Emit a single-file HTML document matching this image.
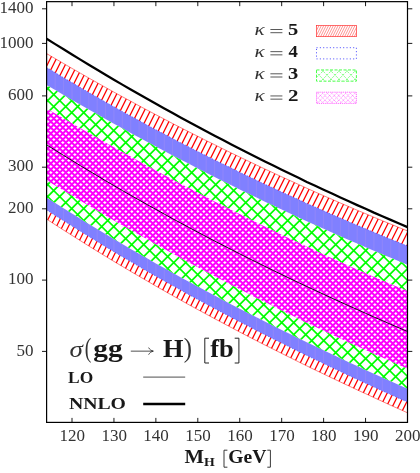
<!DOCTYPE html>
<html><head><meta charset="utf-8"><title>sigma(gg->H)</title>
<style>
html,body{margin:0;padding:0;background:#fff;}
body{width:420px;height:473px;overflow:hidden;font-family:"Liberation Serif",serif;}
svg{display:block;will-change:transform;}
text{font-family:"Liberation Serif",serif;fill:#333;}
.b{fill:#181818;}
.b{font-weight:bold;}
.i{font-style:italic;}
</style></head><body>
<svg width="420" height="473" viewBox="0 0 420 473">
<defs>
<clipPath id="cp"><rect x="46.6" y="1.65" width="360.9" height="420.75"/></clipPath>
<clipPath id="cr"><path d="M46.6,53.6 55.2,58.6 63.6,63.5 72,68.4 80.4,73.2 88.8,78 97.2,82.7 105.5,87.4 113.9,92.1 122.3,96.7 130.7,101.2 139.1,105.8 147.5,110.3 155.9,114.7 164.3,119.1 172.6,123.5 181,127.8 189.4,132.1 197.8,136.3 206.2,140.6 214.6,144.7 223,148.9 231.4,153 239.7,157 248.1,161 256.5,165 264.9,169 273.3,172.9 281.7,176.8 290.1,180.6 298.5,184.4 306.8,188.2 315.2,192 323.6,195.7 332,199.3 340.4,203 348.8,206.6 357.2,210.2 365.6,213.7 373.9,217.2 382.3,220.7 390.7,224.1 399.1,227.6 407.5,230.9 407.5,412.8 399.1,409 390.7,405.3 382.3,401.4 373.9,397.6 365.6,393.7 357.2,389.9 348.8,385.9 340.4,382 332,378 323.6,374 315.2,370 306.8,365.9 298.5,361.8 290.1,357.6 281.7,353.4 273.3,349.2 264.9,345 256.5,340.7 248.1,336.4 239.7,332 231.4,327.6 223,323.1 214.6,318.7 206.2,314.1 197.8,309.6 189.4,305 181,300.3 172.6,295.6 164.3,290.9 155.9,286.1 147.5,281.2 139.1,276.3 130.7,271.4 122.3,266.4 113.9,261.4 105.5,256.3 97.2,251.2 88.8,246 80.4,240.7 72,235.4 63.6,230.1 55.2,224.7 46.6,219.1Z"/></clipPath>
<clipPath id="cb"><path d="M46.6,67.4 55.2,72.6 63.6,77.7 72,82.6 80.4,87.5 88.8,92.4 97.2,97.2 105.5,102 113.9,106.7 122.3,111.4 130.7,116 139.1,120.6 147.5,125.2 155.9,129.7 164.3,134.1 172.6,138.5 181,142.9 189.4,147.2 197.8,151.5 206.2,155.7 214.6,159.9 223,164 231.4,168.1 239.7,172.2 248.1,176.2 256.5,180.2 264.9,184.2 273.3,188.1 281.7,192 290.1,195.8 298.5,199.6 306.8,203.4 315.2,207.1 323.6,210.8 332,214.5 340.4,218.1 348.8,221.7 357.2,225.3 365.6,228.8 373.9,232.3 382.3,235.8 390.7,239.2 399.1,242.6 407.5,246 407.5,402.1 399.1,398.4 390.7,394.6 382.3,390.9 373.9,387.1 365.6,383.2 357.2,379.4 348.8,375.5 340.4,371.5 332,367.6 323.6,363.6 315.2,359.6 306.8,355.5 298.5,351.4 290.1,347.3 281.7,343.1 273.3,338.9 264.9,334.7 256.5,330.4 248.1,326.1 239.7,321.8 231.4,317.4 223,313 214.6,308.5 206.2,304 197.8,299.5 189.4,294.9 181,290.3 172.6,285.6 164.3,280.9 155.9,276.2 147.5,271.4 139.1,266.5 130.7,261.6 122.3,256.7 113.9,251.7 105.5,246.7 97.2,241.6 88.8,236.5 80.4,231.3 72,226.1 63.6,220.8 55.2,215.5 46.6,209.9Z"/></clipPath>
<clipPath id="cg"><path d="M46.6,85 55.2,90.1 63.6,95 72,99.9 80.4,104.7 88.8,109.5 97.2,114.2 105.5,119 113.9,123.7 122.3,128.3 130.7,132.9 139.1,137.5 147.5,142 155.9,146.5 164.3,151 172.6,155.4 181,159.8 189.4,164.1 197.8,168.5 206.2,172.7 214.6,177 223,181.2 231.4,185.3 239.7,189.5 248.1,193.6 256.5,197.6 264.9,201.7 273.3,205.6 281.7,209.6 290.1,213.5 298.5,217.4 306.8,221.2 315.2,225 323.6,228.8 332,232.6 340.4,236.3 348.8,239.9 357.2,243.6 365.6,247.2 373.9,250.7 382.3,254.3 390.7,257.8 399.1,261.2 407.5,264.7 407.5,388.8 399.1,385.1 390.7,381.3 382.3,377.5 373.9,373.7 365.6,369.9 357.2,366 348.8,362.2 340.4,358.2 332,354.3 323.6,350.3 315.2,346.3 306.8,342.3 298.5,338.2 290.1,334.1 281.7,330 273.3,325.8 264.9,321.6 256.5,317.3 248.1,313.1 239.7,308.7 231.4,304.4 223,300 214.6,295.6 206.2,291.1 197.8,286.6 189.4,282 181,277.4 172.6,272.8 164.3,268.1 155.9,263.4 147.5,258.6 139.1,253.8 130.7,248.9 122.3,244 113.9,239.1 105.5,234 97.2,229 88.8,223.9 80.4,218.7 72,213.5 63.6,208.3 55.2,203 46.6,197.5Z"/></clipPath>
<clipPath id="cm"><path d="M46.6,108.4 55.2,113.5 63.6,118.4 72,123.3 80.4,128.2 88.8,133 97.2,137.8 105.5,142.6 113.9,147.3 122.3,152 130.7,156.6 139.1,161.3 147.5,165.9 155.9,170.4 164.3,174.9 172.6,179.4 181,183.9 189.4,188.3 197.8,192.7 206.2,197 214.6,201.4 223,205.6 231.4,209.9 239.7,214.1 248.1,218.3 256.5,222.4 264.9,226.5 273.3,230.6 281.7,234.7 290.1,238.7 298.5,242.6 306.8,246.6 315.2,250.5 323.6,254.4 332,258.2 340.4,262 348.8,265.8 357.2,269.5 365.6,273.2 373.9,276.8 382.3,280.4 390.7,284 399.1,287.6 407.5,291.1 407.5,368.6 399.1,365 390.7,361.3 382.3,357.6 373.9,353.9 365.6,350.1 357.2,346.3 348.8,342.5 340.4,338.6 332,334.7 323.6,330.8 315.2,326.8 306.8,322.8 298.5,318.7 290.1,314.6 281.7,310.5 273.3,306.3 264.9,302.1 256.5,297.9 248.1,293.6 239.7,289.3 231.4,285 223,280.6 214.6,276.2 206.2,271.7 197.8,267.2 189.4,262.7 181,258.2 172.6,253.6 164.3,248.9 155.9,244.3 147.5,239.6 139.1,234.8 130.7,230.1 122.3,225.2 113.9,220.4 105.5,215.5 97.2,210.6 88.8,205.7 80.4,200.7 72,195.6 63.6,190.6 55.2,185.5 46.6,180.2Z"/></clipPath>
<clipPath id="cl0"><rect x="316.5" y="25.45" width="39.9" height="11.2"/></clipPath>
<clipPath id="cl1"><rect x="316.5" y="47.70" width="39.9" height="11.2"/></clipPath>
<clipPath id="cl2"><rect x="316.5" y="69.95" width="39.9" height="11.2"/></clipPath>
<clipPath id="cl3"><rect x="316.5" y="92.20" width="39.9" height="11.2"/></clipPath>
</defs>
<rect width="420" height="473" fill="#fff"/>
<g clip-path="url(#cp)">
<g clip-path="url(#cr)"><path d="M48.7,50L-134.3,416M54.7,50L-128.3,416M60.7,50L-122.3,416M66.7,50L-116.3,416M72.7,50L-110.3,416M78.7,50L-104.3,416M84.7,50L-98.3,416M90.7,50L-92.3,416M96.7,50L-86.3,416M102.7,50L-80.3,416M108.7,50L-74.3,416M114.7,50L-68.3,416M120.7,50L-62.3,416M126.7,50L-56.3,416M132.7,50L-50.3,416M138.7,50L-44.3,416M144.7,50L-38.3,416M150.7,50L-32.3,416M156.7,50L-26.3,416M162.7,50L-20.3,416M168.7,50L-14.3,416M174.7,50L-8.3,416M180.7,50L-2.3,416M186.7,50L3.7,416M192.7,50L9.7,416M198.7,50L15.7,416M204.7,50L21.7,416M210.7,50L27.7,416M216.7,50L33.7,416M222.7,50L39.7,416M228.7,50L45.7,416M234.7,50L51.7,416M240.7,50L57.7,416M246.7,50L63.7,416M252.7,50L69.7,416M258.7,50L75.7,416M264.7,50L81.7,416M270.7,50L87.7,416M276.7,50L93.7,416M282.7,50L99.7,416M288.7,50L105.7,416M294.7,50L111.7,416M300.7,50L117.7,416M306.7,50L123.7,416M312.7,50L129.7,416M318.7,50L135.7,416M324.7,50L141.7,416M330.7,50L147.7,416M336.7,50L153.7,416M342.7,50L159.7,416M348.7,50L165.7,416M354.7,50L171.7,416M360.7,50L177.7,416M366.7,50L183.7,416M372.7,50L189.7,416M378.7,50L195.7,416M384.7,50L201.7,416M390.7,50L207.7,416M396.7,50L213.7,416M402.7,50L219.7,416M408.7,50L225.7,416M414.7,50L231.7,416M420.7,50L237.7,416M426.7,50L243.7,416M432.7,50L249.7,416M438.7,50L255.7,416M444.7,50L261.7,416M450.7,50L267.7,416M456.7,50L273.7,416M462.7,50L279.7,416M468.7,50L285.7,416M474.7,50L291.7,416M480.7,50L297.7,416M486.7,50L303.7,416M492.7,50L309.7,416M498.7,50L315.7,416M504.7,50L321.7,416M510.7,50L327.7,416M516.7,50L333.7,416M522.7,50L339.7,416M528.7,50L345.7,416M534.7,50L351.7,416M540.7,50L357.7,416M546.7,50L363.7,416M552.7,50L369.7,416M558.7,50L375.7,416M564.7,50L381.7,416M570.7,50L387.7,416M576.7,50L393.7,416M582.7,50L399.7,416M588.7,50L405.7,416" stroke="#f00" stroke-width="1.3" fill="none"/></g>
<path d="M46.6,53.6 55.2,58.6 63.6,63.5 72,68.4 80.4,73.2 88.8,78 97.2,82.7 105.5,87.4 113.9,92.1 122.3,96.7 130.7,101.2 139.1,105.8 147.5,110.3 155.9,114.7 164.3,119.1 172.6,123.5 181,127.8 189.4,132.1 197.8,136.3 206.2,140.6 214.6,144.7 223,148.9 231.4,153 239.7,157 248.1,161 256.5,165 264.9,169 273.3,172.9 281.7,176.8 290.1,180.6 298.5,184.4 306.8,188.2 315.2,192 323.6,195.7 332,199.3 340.4,203 348.8,206.6 357.2,210.2 365.6,213.7 373.9,217.2 382.3,220.7 390.7,224.1 399.1,227.6 407.5,230.9 407.5,412.8 399.1,409 390.7,405.3 382.3,401.4 373.9,397.6 365.6,393.7 357.2,389.9 348.8,385.9 340.4,382 332,378 323.6,374 315.2,370 306.8,365.9 298.5,361.8 290.1,357.6 281.7,353.4 273.3,349.2 264.9,345 256.5,340.7 248.1,336.4 239.7,332 231.4,327.6 223,323.1 214.6,318.7 206.2,314.1 197.8,309.6 189.4,305 181,300.3 172.6,295.6 164.3,290.9 155.9,286.1 147.5,281.2 139.1,276.3 130.7,271.4 122.3,266.4 113.9,261.4 105.5,256.3 97.2,251.2 88.8,246 80.4,240.7 72,235.4 63.6,230.1 55.2,224.7 46.6,219.1Z" fill="none" stroke="#f00" stroke-width="0.5"/>
<path d="M46.6,67.4 55.2,72.6 63.6,77.7 72,82.6 80.4,87.5 88.8,92.4 97.2,97.2 105.5,102 113.9,106.7 122.3,111.4 130.7,116 139.1,120.6 147.5,125.2 155.9,129.7 164.3,134.1 172.6,138.5 181,142.9 189.4,147.2 197.8,151.5 206.2,155.7 214.6,159.9 223,164 231.4,168.1 239.7,172.2 248.1,176.2 256.5,180.2 264.9,184.2 273.3,188.1 281.7,192 290.1,195.8 298.5,199.6 306.8,203.4 315.2,207.1 323.6,210.8 332,214.5 340.4,218.1 348.8,221.7 357.2,225.3 365.6,228.8 373.9,232.3 382.3,235.8 390.7,239.2 399.1,242.6 407.5,246 407.5,402.1 399.1,398.4 390.7,394.6 382.3,390.9 373.9,387.1 365.6,383.2 357.2,379.4 348.8,375.5 340.4,371.5 332,367.6 323.6,363.6 315.2,359.6 306.8,355.5 298.5,351.4 290.1,347.3 281.7,343.1 273.3,338.9 264.9,334.7 256.5,330.4 248.1,326.1 239.7,321.8 231.4,317.4 223,313 214.6,308.5 206.2,304 197.8,299.5 189.4,294.9 181,290.3 172.6,285.6 164.3,280.9 155.9,276.2 147.5,271.4 139.1,266.5 130.7,261.6 122.3,256.7 113.9,251.7 105.5,246.7 97.2,241.6 88.8,236.5 80.4,231.3 72,226.1 63.6,220.8 55.2,215.5 46.6,209.9Z" fill="#8080ff"/>
<path d="M46.6,67.4 55.2,72.6 63.6,77.7 72,82.6 80.4,87.5 88.8,92.4 97.2,97.2 105.5,102 113.9,106.7 122.3,111.4 130.7,116 139.1,120.6 147.5,125.2 155.9,129.7 164.3,134.1 172.6,138.5 181,142.9 189.4,147.2 197.8,151.5 206.2,155.7 214.6,159.9 223,164 231.4,168.1 239.7,172.2 248.1,176.2 256.5,180.2 264.9,184.2 273.3,188.1 281.7,192 290.1,195.8 298.5,199.6 306.8,203.4 315.2,207.1 323.6,210.8 332,214.5 340.4,218.1 348.8,221.7 357.2,225.3 365.6,228.8 373.9,232.3 382.3,235.8 390.7,239.2 399.1,242.6 407.5,246M46.6,209.9 55.2,215.5 63.6,220.8 72,226.1 80.4,231.3 88.8,236.5 97.2,241.6 105.5,246.7 113.9,251.7 122.3,256.7 130.7,261.6 139.1,266.5 147.5,271.4 155.9,276.2 164.3,280.9 172.6,285.6 181,290.3 189.4,294.9 197.8,299.5 206.2,304 214.6,308.5 223,313 231.4,317.4 239.7,321.8 248.1,326.1 256.5,330.4 264.9,334.7 273.3,338.9 281.7,343.1 290.1,347.3 298.5,351.4 306.8,355.5 315.2,359.6 323.6,363.6 332,367.6 340.4,371.5 348.8,375.5 357.2,379.4 365.6,383.2 373.9,387.1 382.3,390.9 390.7,394.6 399.1,398.4 407.5,402.1" fill="none" stroke="#2020ff" stroke-width="0.6" stroke-dasharray="0.9 2.1"/>
<g clip-path="url(#cb)"><path d="M55.2,60V410M63.6,60V410M72.0,60V410M80.4,60V410M88.8,60V410M97.2,60V410M105.5,60V410M113.9,60V410M122.3,60V410M130.7,60V410M139.1,60V410M147.5,60V410M155.9,60V410M164.3,60V410M172.6,60V410M181.0,60V410M189.4,60V410M197.8,60V410M206.2,60V410M214.6,60V410M223.0,60V410M231.4,60V410M239.7,60V410M248.1,60V410M256.5,60V410M264.9,60V410M273.3,60V410M281.7,60V410M290.1,60V410M298.5,60V410M306.8,60V410M315.2,60V410M323.6,60V410M332.0,60V410M340.4,60V410M348.8,60V410M357.2,60V410M365.6,60V410M373.9,60V410M382.3,60V410M390.7,60V410M399.1,60V410" stroke="#c8a0e8" stroke-opacity="0.35" stroke-width="0.6" fill="none"/></g>
<path d="M46.6,85 55.2,90.1 63.6,95 72,99.9 80.4,104.7 88.8,109.5 97.2,114.2 105.5,119 113.9,123.7 122.3,128.3 130.7,132.9 139.1,137.5 147.5,142 155.9,146.5 164.3,151 172.6,155.4 181,159.8 189.4,164.1 197.8,168.5 206.2,172.7 214.6,177 223,181.2 231.4,185.3 239.7,189.5 248.1,193.6 256.5,197.6 264.9,201.7 273.3,205.6 281.7,209.6 290.1,213.5 298.5,217.4 306.8,221.2 315.2,225 323.6,228.8 332,232.6 340.4,236.3 348.8,239.9 357.2,243.6 365.6,247.2 373.9,250.7 382.3,254.3 390.7,257.8 399.1,261.2 407.5,264.7 407.5,388.8 399.1,385.1 390.7,381.3 382.3,377.5 373.9,373.7 365.6,369.9 357.2,366 348.8,362.2 340.4,358.2 332,354.3 323.6,350.3 315.2,346.3 306.8,342.3 298.5,338.2 290.1,334.1 281.7,330 273.3,325.8 264.9,321.6 256.5,317.3 248.1,313.1 239.7,308.7 231.4,304.4 223,300 214.6,295.6 206.2,291.1 197.8,286.6 189.4,282 181,277.4 172.6,272.8 164.3,268.1 155.9,263.4 147.5,258.6 139.1,253.8 130.7,248.9 122.3,244 113.9,239.1 105.5,234 97.2,229 88.8,223.9 80.4,218.7 72,213.5 63.6,208.3 55.2,203 46.6,197.5Z" fill="#fff"/>
<g clip-path="url(#cg)"><path d="M54.3,82L-255.7,392M66.3,82L-243.7,392M78.3,82L-231.7,392M90.3,82L-219.7,392M102.3,82L-207.7,392M114.3,82L-195.7,392M126.3,82L-183.7,392M138.3,82L-171.7,392M150.3,82L-159.7,392M162.3,82L-147.7,392M174.3,82L-135.7,392M186.3,82L-123.7,392M198.3,82L-111.7,392M210.3,82L-99.7,392M222.3,82L-87.7,392M234.3,82L-75.7,392M246.3,82L-63.7,392M258.3,82L-51.7,392M270.3,82L-39.7,392M282.3,82L-27.7,392M294.3,82L-15.7,392M306.3,82L-3.7,392M318.3,82L8.3,392M330.3,82L20.3,392M342.3,82L32.3,392M354.3,82L44.3,392M366.3,82L56.3,392M378.3,82L68.3,392M390.3,82L80.3,392M402.3,82L92.3,392M414.3,82L104.3,392M426.3,82L116.3,392M438.3,82L128.3,392M450.3,82L140.3,392M462.3,82L152.3,392M474.3,82L164.3,392M486.3,82L176.3,392M498.3,82L188.3,392M510.3,82L200.3,392M522.3,82L212.3,392M534.3,82L224.3,392M546.3,82L236.3,392M558.3,82L248.3,392M570.3,82L260.3,392M582.3,82L272.3,392M594.3,82L284.3,392M606.3,82L296.3,392M618.3,82L308.3,392M630.3,82L320.3,392M642.3,82L332.3,392M654.3,82L344.3,392M666.3,82L356.3,392M678.3,82L368.3,392M690.3,82L380.3,392M702.3,82L392.3,392M714.3,82L404.3,392M-258.9,82L51.1,392M-246.9,82L63.1,392M-234.9,82L75.1,392M-222.9,82L87.1,392M-210.9,82L99.1,392M-198.9,82L111.1,392M-186.9,82L123.1,392M-174.9,82L135.1,392M-162.9,82L147.1,392M-150.9,82L159.1,392M-138.9,82L171.1,392M-126.9,82L183.1,392M-114.9,82L195.1,392M-102.9,82L207.1,392M-90.9,82L219.1,392M-78.9,82L231.1,392M-66.9,82L243.1,392M-54.9,82L255.1,392M-42.9,82L267.1,392M-30.9,82L279.1,392M-18.9,82L291.1,392M-6.9,82L303.1,392M5.1,82L315.1,392M17.1,82L327.1,392M29.1,82L339.1,392M41.1,82L351.1,392M53.1,82L363.1,392M65.1,82L375.1,392M77.1,82L387.1,392M89.1,82L399.1,392M101.1,82L411.1,392M113.1,82L423.1,392M125.1,82L435.1,392M137.1,82L447.1,392M149.1,82L459.1,392M161.1,82L471.1,392M173.1,82L483.1,392M185.1,82L495.1,392M197.1,82L507.1,392M209.1,82L519.1,392M221.1,82L531.1,392M233.1,82L543.1,392M245.1,82L555.1,392M257.1,82L567.1,392M269.1,82L579.1,392M281.1,82L591.1,392M293.1,82L603.1,392M305.1,82L615.1,392M317.1,82L627.1,392M329.1,82L639.1,392M341.1,82L651.1,392M353.1,82L663.1,392M365.1,82L675.1,392M377.1,82L687.1,392M389.1,82L699.1,392M401.1,82L711.1,392" stroke="#0f0" stroke-width="1.7" fill="none"/></g>
<path d="M46.6,108.4 55.2,113.5 63.6,118.4 72,123.3 80.4,128.2 88.8,133 97.2,137.8 105.5,142.6 113.9,147.3 122.3,152 130.7,156.6 139.1,161.3 147.5,165.9 155.9,170.4 164.3,174.9 172.6,179.4 181,183.9 189.4,188.3 197.8,192.7 206.2,197 214.6,201.4 223,205.6 231.4,209.9 239.7,214.1 248.1,218.3 256.5,222.4 264.9,226.5 273.3,230.6 281.7,234.7 290.1,238.7 298.5,242.6 306.8,246.6 315.2,250.5 323.6,254.4 332,258.2 340.4,262 348.8,265.8 357.2,269.5 365.6,273.2 373.9,276.8 382.3,280.4 390.7,284 399.1,287.6 407.5,291.1 407.5,368.6 399.1,365 390.7,361.3 382.3,357.6 373.9,353.9 365.6,350.1 357.2,346.3 348.8,342.5 340.4,338.6 332,334.7 323.6,330.8 315.2,326.8 306.8,322.8 298.5,318.7 290.1,314.6 281.7,310.5 273.3,306.3 264.9,302.1 256.5,297.9 248.1,293.6 239.7,289.3 231.4,285 223,280.6 214.6,276.2 206.2,271.7 197.8,267.2 189.4,262.7 181,258.2 172.6,253.6 164.3,248.9 155.9,244.3 147.5,239.6 139.1,234.8 130.7,230.1 122.3,225.2 113.9,220.4 105.5,215.5 97.2,210.6 88.8,205.7 80.4,200.7 72,195.6 63.6,190.6 55.2,185.5 46.6,180.2Z" fill="#fff"/>
<g clip-path="url(#cm)"><path d="M49.4,105L-217.6,372M55.4,105L-211.6,372M61.4,105L-205.6,372M67.4,105L-199.6,372M73.4,105L-193.6,372M79.4,105L-187.6,372M85.4,105L-181.6,372M91.4,105L-175.6,372M97.4,105L-169.6,372M103.4,105L-163.6,372M109.4,105L-157.6,372M115.4,105L-151.6,372M121.4,105L-145.6,372M127.4,105L-139.6,372M133.4,105L-133.6,372M139.4,105L-127.6,372M145.4,105L-121.6,372M151.4,105L-115.6,372M157.4,105L-109.6,372M163.4,105L-103.6,372M169.4,105L-97.6,372M175.4,105L-91.6,372M181.4,105L-85.6,372M187.4,105L-79.6,372M193.4,105L-73.6,372M199.4,105L-67.6,372M205.4,105L-61.6,372M211.4,105L-55.6,372M217.4,105L-49.6,372M223.4,105L-43.6,372M229.4,105L-37.6,372M235.4,105L-31.6,372M241.4,105L-25.6,372M247.4,105L-19.6,372M253.4,105L-13.6,372M259.4,105L-7.6,372M265.4,105L-1.6,372M271.4,105L4.4,372M277.4,105L10.4,372M283.4,105L16.4,372M289.4,105L22.4,372M295.4,105L28.4,372M301.4,105L34.4,372M307.4,105L40.4,372M313.4,105L46.4,372M319.4,105L52.4,372M325.4,105L58.4,372M331.4,105L64.4,372M337.4,105L70.4,372M343.4,105L76.4,372M349.4,105L82.4,372M355.4,105L88.4,372M361.4,105L94.4,372M367.4,105L100.4,372M373.4,105L106.4,372M379.4,105L112.4,372M385.4,105L118.4,372M391.4,105L124.4,372M397.4,105L130.4,372M403.4,105L136.4,372M409.4,105L142.4,372M415.4,105L148.4,372M421.4,105L154.4,372M427.4,105L160.4,372M433.4,105L166.4,372M439.4,105L172.4,372M445.4,105L178.4,372M451.4,105L184.4,372M457.4,105L190.4,372M463.4,105L196.4,372M469.4,105L202.4,372M475.4,105L208.4,372M481.4,105L214.4,372M487.4,105L220.4,372M493.4,105L226.4,372M499.4,105L232.4,372M505.4,105L238.4,372M511.4,105L244.4,372M517.4,105L250.4,372M523.4,105L256.4,372M529.4,105L262.4,372M535.4,105L268.4,372M541.4,105L274.4,372M547.4,105L280.4,372M553.4,105L286.4,372M559.4,105L292.4,372M565.4,105L298.4,372M571.4,105L304.4,372M577.4,105L310.4,372M583.4,105L316.4,372M589.4,105L322.4,372M595.4,105L328.4,372M601.4,105L334.4,372M607.4,105L340.4,372M613.4,105L346.4,372M619.4,105L352.4,372M625.4,105L358.4,372M631.4,105L364.4,372M637.4,105L370.4,372M643.4,105L376.4,372M649.4,105L382.4,372M655.4,105L388.4,372M661.4,105L394.4,372M667.4,105L400.4,372M673.4,105L406.4,372M-217.7,105L49.3,372M-211.7,105L55.3,372M-205.7,105L61.3,372M-199.7,105L67.3,372M-193.7,105L73.3,372M-187.7,105L79.3,372M-181.7,105L85.3,372M-175.7,105L91.3,372M-169.7,105L97.3,372M-163.7,105L103.3,372M-157.7,105L109.3,372M-151.7,105L115.3,372M-145.7,105L121.3,372M-139.7,105L127.3,372M-133.7,105L133.3,372M-127.7,105L139.3,372M-121.7,105L145.3,372M-115.7,105L151.3,372M-109.7,105L157.3,372M-103.7,105L163.3,372M-97.7,105L169.3,372M-91.7,105L175.3,372M-85.7,105L181.3,372M-79.7,105L187.3,372M-73.7,105L193.3,372M-67.7,105L199.3,372M-61.7,105L205.3,372M-55.7,105L211.3,372M-49.7,105L217.3,372M-43.7,105L223.3,372M-37.7,105L229.3,372M-31.7,105L235.3,372M-25.7,105L241.3,372M-19.7,105L247.3,372M-13.7,105L253.3,372M-7.7,105L259.3,372M-1.7,105L265.3,372M4.3,105L271.3,372M10.3,105L277.3,372M16.3,105L283.3,372M22.3,105L289.3,372M28.3,105L295.3,372M34.3,105L301.3,372M40.3,105L307.3,372M46.3,105L313.3,372M52.3,105L319.3,372M58.3,105L325.3,372M64.3,105L331.3,372M70.3,105L337.3,372M76.3,105L343.3,372M82.3,105L349.3,372M88.3,105L355.3,372M94.3,105L361.3,372M100.3,105L367.3,372M106.3,105L373.3,372M112.3,105L379.3,372M118.3,105L385.3,372M124.3,105L391.3,372M130.3,105L397.3,372M136.3,105L403.3,372M142.3,105L409.3,372M148.3,105L415.3,372M154.3,105L421.3,372M160.3,105L427.3,372M166.3,105L433.3,372M172.3,105L439.3,372M178.3,105L445.3,372M184.3,105L451.3,372M190.3,105L457.3,372M196.3,105L463.3,372M202.3,105L469.3,372M208.3,105L475.3,372M214.3,105L481.3,372M220.3,105L487.3,372M226.3,105L493.3,372M232.3,105L499.3,372M238.3,105L505.3,372M244.3,105L511.3,372M250.3,105L517.3,372M256.3,105L523.3,372M262.3,105L529.3,372M268.3,105L535.3,372M274.3,105L541.3,372M280.3,105L547.3,372M286.3,105L553.3,372M292.3,105L559.3,372M298.3,105L565.3,372M304.3,105L571.3,372M310.3,105L577.3,372M316.3,105L583.3,372M322.3,105L589.3,372M328.3,105L595.3,372M334.3,105L601.3,372M340.3,105L607.3,372M346.3,105L613.3,372M352.3,105L619.3,372M358.3,105L625.3,372M364.3,105L631.3,372M370.3,105L637.3,372M376.3,105L643.3,372M382.3,105L649.3,372M388.3,105L655.3,372M394.3,105L661.3,372M400.3,105L667.3,372M406.3,105L673.3,372" stroke="#f0f" stroke-width="2.05" fill="none"/></g>
<path d="M46.6,144.8 55.2,150.2 63.6,155.4 72,160.5 80.4,165.7 88.8,170.7 97.2,175.7 105.5,180.7 113.9,185.6 122.3,190.5 130.7,195.3 139.1,200 147.5,204.8 155.9,209.4 164.3,214.1 172.6,218.7 181,223.2 189.4,227.7 197.8,232.2 206.2,236.6 214.6,241 223,245.3 231.4,249.6 239.7,253.8 248.1,258.1 256.5,262.2 264.9,266.4 273.3,270.5 281.7,274.5 290.1,278.6 298.5,282.6 306.8,286.5 315.2,290.4 323.6,294.3 332,298.2 340.4,302 348.8,305.8 357.2,309.5 365.6,313.3 373.9,317 382.3,320.6 390.7,324.3 399.1,327.9 407.5,331.5" fill="none" stroke="#000" stroke-width="0.9"/>
<path d="M46.6,38.7 55.2,44.1 63.6,49.3 72,54.5 80.4,59.6 88.8,64.7 97.2,69.7 105.5,74.7 113.9,79.7 122.3,84.6 130.7,89.4 139.1,94.3 147.5,99 155.9,103.8 164.3,108.4 172.6,113.1 181,117.7 189.4,122.2 197.8,126.8 206.2,131.2 214.6,135.7 223,140.1 231.4,144.4 239.7,148.7 248.1,153 256.5,157.3 264.9,161.5 273.3,165.6 281.7,169.7 290.1,173.8 298.5,177.8 306.8,181.9 315.2,185.8 323.6,189.7 332,193.6 340.4,197.5 348.8,201.3 357.2,205.1 365.6,208.8 373.9,212.6 382.3,216.2 390.7,219.9 399.1,223.5 407.5,227.1" fill="none" stroke="#000" stroke-width="2.25"/>
</g>
<rect x="46.6" y="1.65" width="360.9" height="420.75" fill="none" stroke="#000" stroke-width="1.2"/>
<path d="M42.0,8.8H46.6M407.5,8.8H412.3M42.0,43.4H46.6M407.5,43.4H412.3M42.0,95.9H46.6M407.5,95.9H412.3M42.0,167.2H46.6M407.5,167.2H412.3M42.0,208.8H46.6M407.5,208.8H412.3M42.0,280.1H46.6M407.5,280.1H412.3M42.0,351.4H46.6M407.5,351.4H412.3M72.00,422.4V417.9M72.00,1.65V6.15M113.94,422.4V417.9M113.94,1.65V6.15M155.87,422.4V417.9M155.87,1.65V6.15M197.81,422.4V417.9M197.81,1.65V6.15M239.74,422.4V417.9M239.74,1.65V6.15M281.68,422.4V417.9M281.68,1.65V6.15M323.62,422.4V417.9M323.62,1.65V6.15M365.55,422.4V417.9M365.55,1.65V6.15M407.49,422.4V417.9M407.49,1.65V6.15" stroke="#000" stroke-width="0.9" fill="none"/>
<text x="-0.62" y="13.11" font-size="17.0">1400</text>
<text x="-0.62" y="47.70" font-size="17.0">1000</text>
<text x="7.88" y="100.21" font-size="17.0">600</text>
<text x="7.88" y="171.47" font-size="17.0">300</text>
<text x="7.88" y="213.15" font-size="17.0">200</text>
<text x="7.88" y="284.40" font-size="17.0">100</text>
<text x="16.38" y="355.65" font-size="17.0">50</text>
<text x="72.20" y="441.4" font-size="17.0" text-anchor="middle">120</text>
<text x="114.14" y="441.4" font-size="17.0" text-anchor="middle">130</text>
<text x="156.07" y="441.4" font-size="17.0" text-anchor="middle">140</text>
<text x="198.01" y="441.4" font-size="17.0" text-anchor="middle">150</text>
<text x="239.94" y="441.4" font-size="17.0" text-anchor="middle">160</text>
<text x="281.88" y="441.4" font-size="17.0" text-anchor="middle">170</text>
<text x="323.82" y="441.4" font-size="17.0" text-anchor="middle">180</text>
<text x="365.75" y="441.4" font-size="17.0" text-anchor="middle">190</text>
<text x="407.69" y="441.4" font-size="17.0" text-anchor="middle">200</text>
<text x="254.45" y="34.75" font-size="17.36" textLength="10.23" lengthAdjust="spacingAndGlyphs" class="i">κ</text>
<path d="M270.4,29.50H282.4M270.4,32.70H282.4" stroke="#222" stroke-width="0.75"/>
<text x="287.98" y="34.75" font-size="16.79" textLength="10.24" lengthAdjust="spacingAndGlyphs" class="b">5</text>
<text x="254.45" y="56.90" font-size="17.36" textLength="10.23" lengthAdjust="spacingAndGlyphs" class="i">κ</text>
<path d="M270.4,51.65H282.4M270.4,54.85H282.4" stroke="#222" stroke-width="0.75"/>
<text x="288.52" y="56.90" font-size="16.79" textLength="9.35" lengthAdjust="spacingAndGlyphs" class="b">4</text>
<text x="254.45" y="79.05" font-size="17.36" textLength="10.23" lengthAdjust="spacingAndGlyphs" class="i">κ</text>
<path d="M270.4,73.80H282.4M270.4,77.00H282.4" stroke="#222" stroke-width="0.75"/>
<text x="287.98" y="79.05" font-size="16.67" textLength="10.24" lengthAdjust="spacingAndGlyphs" class="b">3</text>
<text x="254.45" y="101.20" font-size="17.36" textLength="10.23" lengthAdjust="spacingAndGlyphs" class="i">κ</text>
<path d="M270.4,95.95H282.4M270.4,99.15H282.4" stroke="#222" stroke-width="0.75"/>
<text x="287.96" y="101.20" font-size="16.67" textLength="10.48" lengthAdjust="spacingAndGlyphs" class="b">2</text>
<g clip-path="url(#cl0)"><path d="M48.3,24.5L41.3,38.5M50.7,24.5L43.7,38.5M53.1,24.5L46.1,38.5M55.5,24.5L48.5,38.5M57.9,24.5L50.9,38.5M60.3,24.5L53.3,38.5M62.7,24.5L55.7,38.5M65.1,24.5L58.1,38.5M67.5,24.5L60.5,38.5M69.9,24.5L62.9,38.5M72.3,24.5L65.3,38.5M74.7,24.5L67.7,38.5M77.1,24.5L70.1,38.5M79.5,24.5L72.5,38.5M81.9,24.5L74.9,38.5M84.3,24.5L77.3,38.5M86.7,24.5L79.7,38.5M89.1,24.5L82.1,38.5M91.5,24.5L84.5,38.5M93.9,24.5L86.9,38.5M96.3,24.5L89.3,38.5M98.7,24.5L91.7,38.5M101.1,24.5L94.1,38.5M103.5,24.5L96.5,38.5M105.9,24.5L98.9,38.5M108.3,24.5L101.3,38.5M110.7,24.5L103.7,38.5M113.1,24.5L106.1,38.5M115.5,24.5L108.5,38.5M117.9,24.5L110.9,38.5M120.3,24.5L113.3,38.5M122.7,24.5L115.7,38.5M125.1,24.5L118.1,38.5M127.5,24.5L120.5,38.5M129.9,24.5L122.9,38.5M132.3,24.5L125.3,38.5M134.7,24.5L127.7,38.5M137.1,24.5L130.1,38.5M139.5,24.5L132.5,38.5M141.9,24.5L134.9,38.5M144.3,24.5L137.3,38.5M146.7,24.5L139.7,38.5M149.1,24.5L142.1,38.5M151.5,24.5L144.5,38.5M153.9,24.5L146.9,38.5M156.3,24.5L149.3,38.5M158.7,24.5L151.7,38.5M161.1,24.5L154.1,38.5M163.5,24.5L156.5,38.5M165.9,24.5L158.9,38.5M168.3,24.5L161.3,38.5M170.7,24.5L163.7,38.5M173.1,24.5L166.1,38.5M175.5,24.5L168.5,38.5M177.9,24.5L170.9,38.5M180.3,24.5L173.3,38.5M182.7,24.5L175.7,38.5M185.1,24.5L178.1,38.5M187.5,24.5L180.5,38.5M189.9,24.5L182.9,38.5M192.3,24.5L185.3,38.5M194.7,24.5L187.7,38.5M197.1,24.5L190.1,38.5M199.5,24.5L192.5,38.5M201.9,24.5L194.9,38.5M204.3,24.5L197.3,38.5M206.7,24.5L199.7,38.5M209.1,24.5L202.1,38.5M211.5,24.5L204.5,38.5M213.9,24.5L206.9,38.5M216.3,24.5L209.3,38.5M218.7,24.5L211.7,38.5M221.1,24.5L214.1,38.5M223.5,24.5L216.5,38.5M225.9,24.5L218.9,38.5M228.3,24.5L221.3,38.5M230.7,24.5L223.7,38.5M233.1,24.5L226.1,38.5M235.5,24.5L228.5,38.5M237.9,24.5L230.9,38.5M240.3,24.5L233.3,38.5M242.7,24.5L235.7,38.5M245.1,24.5L238.1,38.5M247.5,24.5L240.5,38.5M249.9,24.5L242.9,38.5M252.3,24.5L245.3,38.5M254.7,24.5L247.7,38.5M257.1,24.5L250.1,38.5M259.5,24.5L252.5,38.5M261.9,24.5L254.9,38.5M264.3,24.5L257.3,38.5M266.7,24.5L259.7,38.5M269.1,24.5L262.1,38.5M271.5,24.5L264.5,38.5M273.9,24.5L266.9,38.5M276.3,24.5L269.3,38.5M278.7,24.5L271.7,38.5M281.1,24.5L274.1,38.5M283.5,24.5L276.5,38.5M285.9,24.5L278.9,38.5M288.3,24.5L281.3,38.5M290.7,24.5L283.7,38.5M293.1,24.5L286.1,38.5M295.5,24.5L288.5,38.5M297.9,24.5L290.9,38.5M300.3,24.5L293.3,38.5M302.7,24.5L295.7,38.5M305.1,24.5L298.1,38.5M307.5,24.5L300.5,38.5M309.9,24.5L302.9,38.5M312.3,24.5L305.3,38.5M314.7,24.5L307.7,38.5M317.1,24.5L310.1,38.5M319.5,24.5L312.5,38.5M321.9,24.5L314.9,38.5M324.3,24.5L317.3,38.5M326.7,24.5L319.7,38.5M329.1,24.5L322.1,38.5M331.5,24.5L324.5,38.5M333.9,24.5L326.9,38.5M336.3,24.5L329.3,38.5M338.7,24.5L331.7,38.5M341.1,24.5L334.1,38.5M343.5,24.5L336.5,38.5M345.9,24.5L338.9,38.5M348.3,24.5L341.3,38.5M350.7,24.5L343.7,38.5M353.1,24.5L346.1,38.5M355.5,24.5L348.5,38.5M357.9,24.5L350.9,38.5M360.3,24.5L353.3,38.5M362.7,24.5L355.7,38.5M365.1,24.5L358.1,38.5M367.5,24.5L360.5,38.5M369.9,24.5L362.9,38.5M372.3,24.5L365.3,38.5M374.7,24.5L367.7,38.5M377.1,24.5L370.1,38.5M379.5,24.5L372.5,38.5M381.9,24.5L374.9,38.5M384.3,24.5L377.3,38.5M386.7,24.5L379.7,38.5M389.1,24.5L382.1,38.5M391.5,24.5L384.5,38.5M393.9,24.5L386.9,38.5M396.3,24.5L389.3,38.5M398.7,24.5L391.7,38.5M401.1,24.5L394.1,38.5M403.5,24.5L396.5,38.5M405.9,24.5L398.9,38.5M408.3,24.5L401.3,38.5M410.7,24.5L403.7,38.5M413.1,24.5L406.1,38.5" stroke="#f00" stroke-width="0.42" fill="none"/></g>
<rect x="316.5" y="25.45" width="39.9" height="11.2" fill="none" stroke="#f33" stroke-width="0.7"/>
<rect x="316.5" y="47.70" width="39.9" height="11.2" fill="none" stroke="#55f" stroke-width="1.0" stroke-dasharray="1.1 2.23"/>
<g clip-path="url(#cl2)"><path d="M53,69L39,83M61,69L47,83M69,69L55,83M77,69L63,83M85,69L71,83M93,69L79,83M101,69L87,83M109,69L95,83M117,69L103,83M125,69L111,83M133.1,69L119,83M141.1,69L127,83M149.1,69L135.1,83M157.1,69L143.1,83M165.1,69L151.1,83M173.1,69L159.1,83M181.1,69L167.1,83M189.1,69L175.1,83M197.1,69L183.1,83M205.1,69L191.1,83M213.1,69L199.1,83M221.1,69L207.1,83M229.1,69L215.1,83M237.1,69L223.1,83M245.1,69L231.1,83M253.1,69L239.1,83M261.1,69L247.1,83M269.1,69L255.1,83M277.1,69L263.1,83M285.1,69L271.1,83M293.1,69L279.1,83M301.1,69L287.1,83M309.1,69L295.1,83M317.1,69L303.1,83M325.1,69L311.1,83M333.1,69L319.1,83M341.1,69L327.1,83M349.1,69L335.1,83M357.1,69L343.1,83M365.1,69L351.1,83M373.1,69L359.1,83M381.1,69L367.1,83M389.1,69L375.1,83M397.1,69L383.1,83M405.1,69L391.1,83M413.1,69L399.1,83M421.1,69L407.1,83M33,69L47,83M41,69L55,83M49,69L63,83M57,69L71,83M65,69L79,83M73,69L87,83M81,69L95,83M89,69L103,83M97,69L111,83M105,69L119,83M113,69L127,83M121,69L134.9,83M128.9,69L142.9,83M136.9,69L150.9,83M144.9,69L158.9,83M152.9,69L166.9,83M160.9,69L174.9,83M168.9,69L182.9,83M176.9,69L190.9,83M184.9,69L198.9,83M192.9,69L206.9,83M200.9,69L214.9,83M208.9,69L222.9,83M216.9,69L230.9,83M224.9,69L238.9,83M232.9,69L246.9,83M240.9,69L254.9,83M248.9,69L262.9,83M256.9,69L270.9,83M264.9,69L278.9,83M272.9,69L286.9,83M280.9,69L294.9,83M288.9,69L302.9,83M296.9,69L310.9,83M304.9,69L318.9,83M312.9,69L326.9,83M320.9,69L334.9,83M328.9,69L342.9,83M336.9,69L350.9,83M344.9,69L358.9,83M352.9,69L366.9,83M360.9,69L374.9,83M368.9,69L382.9,83M376.9,69L390.9,83M384.9,69L398.9,83M392.9,69L406.9,83M400.9,69L414.9,83" stroke="#0f0" stroke-width="0.5" stroke-dasharray="2.2 1.2" fill="none"/></g>
<rect x="316.5" y="69.95" width="39.9" height="11.2" fill="none" stroke="#2f2" stroke-width="0.8" stroke-dasharray="3 1.5"/>
<g clip-path="url(#cl3)"><path d="M48.8,91.2L34.8,105.2M53.4,91.2L39.4,105.2M58,91.2L44,105.2M62.6,91.2L48.6,105.2M67.2,91.2L53.2,105.2M71.8,91.2L57.8,105.2M76.4,91.2L62.4,105.2M81,91.2L67,105.2M85.6,91.2L71.6,105.2M90.2,91.2L76.2,105.2M94.8,91.2L80.8,105.2M99.4,91.2L85.4,105.2M104,91.2L90,105.2M108.6,91.2L94.6,105.2M113.2,91.2L99.2,105.2M117.8,91.2L103.8,105.2M122.4,91.2L108.4,105.2M127,91.2L113,105.2M131.6,91.2L117.6,105.2M136.2,91.2L122.2,105.2M140.8,91.2L126.8,105.2M145.4,91.2L131.4,105.2M150,91.2L136,105.2M154.6,91.2L140.6,105.2M159.2,91.2L145.2,105.2M163.8,91.2L149.8,105.2M168.4,91.2L154.4,105.2M173,91.2L159,105.2M177.6,91.2L163.6,105.2M182.2,91.2L168.2,105.2M186.8,91.2L172.8,105.2M191.4,91.2L177.4,105.2M196,91.2L182,105.2M200.6,91.2L186.6,105.2M205.2,91.2L191.2,105.2M209.8,91.2L195.8,105.2M214.4,91.2L200.4,105.2M219,91.2L205,105.2M223.6,91.2L209.6,105.2M228.2,91.2L214.2,105.2M232.8,91.2L218.8,105.2M237.4,91.2L223.4,105.2M242,91.2L228,105.2M246.6,91.2L232.6,105.2M251.2,91.2L237.2,105.2M255.8,91.2L241.8,105.2M260.4,91.2L246.4,105.2M265,91.2L251,105.2M269.6,91.2L255.6,105.2M274.2,91.2L260.2,105.2M278.8,91.2L264.8,105.2M283.4,91.2L269.4,105.2M288,91.2L274,105.2M292.6,91.2L278.6,105.2M297.2,91.2L283.2,105.2M301.8,91.2L287.8,105.2M306.4,91.2L292.4,105.2M311,91.2L297,105.2M315.6,91.2L301.6,105.2M320.2,91.2L306.2,105.2M324.8,91.2L310.8,105.2M329.4,91.2L315.4,105.2M334,91.2L320,105.2M338.6,91.2L324.6,105.2M343.2,91.2L329.2,105.2M347.8,91.2L333.8,105.2M352.4,91.2L338.4,105.2M357,91.2L343,105.2M361.6,91.2L347.6,105.2M366.2,91.2L352.2,105.2M370.8,91.2L356.8,105.2M375.4,91.2L361.4,105.2M380,91.2L366,105.2M384.6,91.2L370.6,105.2M389.2,91.2L375.2,105.2M393.8,91.2L379.8,105.2M398.4,91.2L384.4,105.2M403,91.2L389,105.2M407.6,91.2L393.6,105.2M412.2,91.2L398.2,105.2M416.8,91.2L402.8,105.2M421.4,91.2L407.4,105.2M35.4,91.2L49.4,105.2M40,91.2L54,105.2M44.6,91.2L58.6,105.2M49.2,91.2L63.2,105.2M53.8,91.2L67.8,105.2M58.4,91.2L72.4,105.2M63,91.2L77,105.2M67.6,91.2L81.6,105.2M72.2,91.2L86.2,105.2M76.8,91.2L90.8,105.2M81.4,91.2L95.4,105.2M86,91.2L100,105.2M90.6,91.2L104.6,105.2M95.2,91.2L109.2,105.2M99.8,91.2L113.8,105.2M104.4,91.2L118.4,105.2M109,91.2L123,105.2M113.6,91.2L127.6,105.2M118.2,91.2L132.2,105.2M122.8,91.2L136.8,105.2M127.4,91.2L141.4,105.2M132,91.2L146,105.2M136.6,91.2L150.6,105.2M141.2,91.2L155.2,105.2M145.8,91.2L159.8,105.2M150.4,91.2L164.4,105.2M155,91.2L169,105.2M159.6,91.2L173.6,105.2M164.2,91.2L178.2,105.2M168.8,91.2L182.8,105.2M173.4,91.2L187.4,105.2M178,91.2L192,105.2M182.6,91.2L196.6,105.2M187.2,91.2L201.2,105.2M191.8,91.2L205.8,105.2M196.4,91.2L210.4,105.2M201,91.2L215,105.2M205.6,91.2L219.6,105.2M210.2,91.2L224.2,105.2M214.8,91.2L228.8,105.2M219.4,91.2L233.4,105.2M224,91.2L238,105.2M228.6,91.2L242.6,105.2M233.2,91.2L247.2,105.2M237.8,91.2L251.8,105.2M242.4,91.2L256.4,105.2M247,91.2L261,105.2M251.6,91.2L265.6,105.2M256.2,91.2L270.2,105.2M260.8,91.2L274.8,105.2M265.4,91.2L279.4,105.2M270,91.2L284,105.2M274.6,91.2L288.6,105.2M279.2,91.2L293.2,105.2M283.8,91.2L297.8,105.2M288.4,91.2L302.4,105.2M293,91.2L307,105.2M297.6,91.2L311.6,105.2M302.2,91.2L316.2,105.2M306.8,91.2L320.8,105.2M311.4,91.2L325.4,105.2M316,91.2L330,105.2M320.6,91.2L334.6,105.2M325.2,91.2L339.2,105.2M329.8,91.2L343.8,105.2M334.4,91.2L348.4,105.2M339,91.2L353,105.2M343.6,91.2L357.6,105.2M348.2,91.2L362.2,105.2M352.8,91.2L366.8,105.2M357.4,91.2L371.4,105.2M362,91.2L376,105.2M366.6,91.2L380.6,105.2M371.2,91.2L385.2,105.2M375.8,91.2L389.8,105.2M380.4,91.2L394.4,105.2M385,91.2L399,105.2M389.6,91.2L403.6,105.2M394.2,91.2L408.2,105.2M398.8,91.2L412.8,105.2M403.4,91.2L417.4,105.2" stroke="#f0f" stroke-width="0.45" stroke-dasharray="1 0.8" fill="none"/></g>
<rect x="316.5" y="92.20" width="39.9" height="11.2" fill="none" stroke="#f4f" stroke-width="0.8" stroke-dasharray="1 0.9"/>
<text x="69.49" y="357.20" font-size="22.50" textLength="13.35" lengthAdjust="spacingAndGlyphs" class="i">σ</text>
<text x="84.82" y="357.20" font-size="27.80" textLength="6.53" lengthAdjust="spacingAndGlyphs">(</text>
<text x="93.27" y="357.20" font-size="24.50" textLength="29.33" lengthAdjust="spacingAndGlyphs" class="b">gg</text>
<path d="M130.8,351.15H153M148.6,347.6C149.6,349.6 151.2,350.6 153.4,351.15C151.2,351.7 149.6,352.7 148.6,354.7" stroke="#222" stroke-width="0.8" fill="none"/>
<text x="163.01" y="357.00" font-size="25.50" textLength="20.47" lengthAdjust="spacingAndGlyphs" class="b">H</text>
<text x="183.86" y="357.20" font-size="27.80" textLength="8.20" lengthAdjust="spacingAndGlyphs">)</text>
<path d="M209,338.2H204.8V363H209M234.7,338.2H238.9V363H234.7" stroke="#222" stroke-width="1" fill="none"/>
<text x="210.27" y="357.00" font-size="25.71" textLength="23.47" lengthAdjust="spacingAndGlyphs" class="b">fb</text>
<text x="68.04" y="382.50" font-size="17.27" textLength="25.13" lengthAdjust="spacingAndGlyphs" class="b">LO</text>
<text x="68.90" y="409.20" font-size="16.97" textLength="57.07" lengthAdjust="spacingAndGlyphs" class="b">NNLO</text>
<path d="M143.2,377.1H185.2" stroke="#222" stroke-width="0.8"/>
<path d="M143.2,404H185.2" stroke="#000" stroke-width="2.3"/>
<text x="184.59" y="463.40" font-size="17.85" textLength="19.51" lengthAdjust="spacingAndGlyphs" class="b">M</text>
<text x="204.09" y="465.70" font-size="11.76" textLength="10.75" lengthAdjust="spacingAndGlyphs" class="b">H</text>
<path d="M227.4,450.2H224V467.2H227.4M267.3,450.2H270.4V467.2H267.3" stroke="#222" stroke-width="0.9" fill="none"/>
<text x="228.22" y="463.40" font-size="17.88" textLength="38.15" lengthAdjust="spacingAndGlyphs" class="b">GeV</text>
</svg></body></html>
